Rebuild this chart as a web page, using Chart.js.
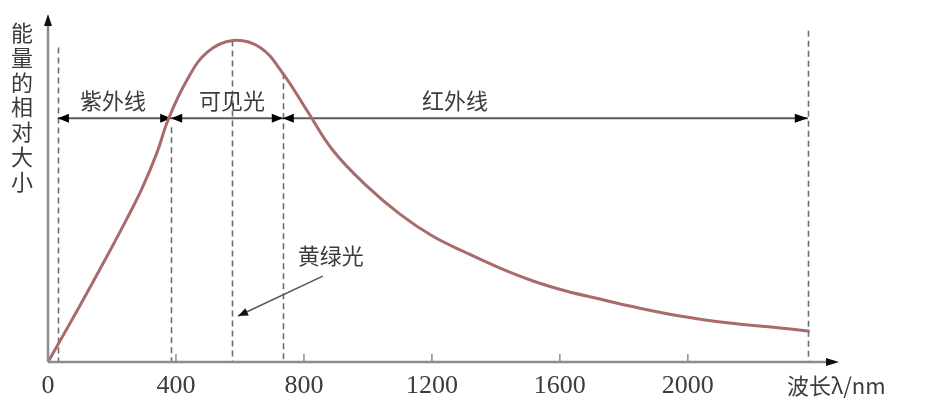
<!DOCTYPE html>
<html><head><meta charset="utf-8">
<script src="https://cdn.jsdelivr.net/npm/chart.js@4/dist/chart.umd.min.js"></script>
<style>html,body{margin:0;padding:0;background:#fff}#wrap{width:927px;height:407px}</style>
</head><body><div id="wrap"><canvas id="c" width="927" height="407"></canvas></div>
<script>
// ---- data ----
const wavelength = [0,94,178,241,294,341,375,434,497,578,663,734,809,891,997,1100,1203,1309,1413,1516,1622,1725,1819,1975,2131,2288,2381];
const energy     = [0,16.5,31.7,43.5,54.0,65.2,75.2,87.6,96.3,100,97.8,89.8,78.3,65.8,54.7,46.0,39.1,33.9,29.2,25.2,22.0,19.6,17.4,14.3,12.1,10.6,9.6];
const xTickValues = [0,400,800,1200,1600,2000];
const xTickLabels = ['0','400','800','1200','1600','2000'];
const boundaryWavelengths = [31,385,575,734,2375];
const boundaryTops = [97.8,73,100,89.8,103];
const bandLevel = 75.8;
const bandNames = ['紫外线','可见光','红外线'];
const bandCenters = [203,575,1272];
const bandLabelLevel = 81.4;
const noteText = '黄绿光';
const notePos = [884,33.2];
const notePointerFrom = [859,26.7];
const notePointerTo = [594,14.3];
const yTitle = '能量的相对大小';
const xTitle = '波长λ/nm';
const xMax = 2460, yMax = 107;

const TXT = '#3c3c3c', AX = '#8c8c8c';
const CJK = '"Noto Sans CJK SC", sans-serif';
const SERIF = '"Liberation Serif", "DejaVu Serif", serif';

function tri(ctx, tipX, tipY, dir, len, half){
  ctx.beginPath();
  if (dir==='right'){ctx.moveTo(tipX,tipY);ctx.lineTo(tipX-len,tipY-half);ctx.lineTo(tipX-len,tipY+half);}
  else if (dir==='left'){ctx.moveTo(tipX,tipY);ctx.lineTo(tipX+len,tipY-half);ctx.lineTo(tipX+len,tipY+half);}
  else if (dir==='up'){ctx.moveTo(tipX,tipY);ctx.lineTo(tipX-half,tipY+len);ctx.lineTo(tipX+half,tipY+len);}
  ctx.closePath();ctx.fill();
}

const decor = {
  id:'decor',
  beforeDatasetsDraw(chart){
    const {ctx, scales:{x,y}} = chart;
    ctx.save();
    ctx.strokeStyle='#6e6e6e'; ctx.lineWidth=1.6; ctx.setLineDash([6,4]);
    boundaryWavelengths.forEach((w,i)=>{
      const px=Math.round(x.getPixelForValue(w))+0.5;
      ctx.beginPath(); ctx.moveTo(px,y.getPixelForValue(boundaryTops[i])); ctx.lineTo(px,y.getPixelForValue(0)); ctx.stroke();
    });
    ctx.setLineDash([]);
    const by=y.getPixelForValue(bandLevel);
    const bx=boundaryWavelengths.map(w=>x.getPixelForValue(w));
    ctx.strokeStyle='#5a5a5a'; ctx.lineWidth=2;
    ctx.beginPath(); ctx.moveTo(bx[0],by); ctx.lineTo(bx[4],by); ctx.stroke();
    ctx.fillStyle='#000';
    tri(ctx,bx[0],by,'left',11,4.5);
    [bx[1],bx[3]].forEach(p=>{tri(ctx,p,by,'right',11,4.5);tri(ctx,p,by,'left',11,4.5);});
    tri(ctx,bx[4],by,'right',13,4.5);
    ctx.restore();
  },
  afterDraw(chart){
    const {ctx, scales:{x,y}} = chart;
    ctx.save();
    const x0=x.getPixelForValue(0), y0=y.getPixelForValue(0);
    const xEnd=x.getPixelForValue(xMax), yTop=y.getPixelForValue(yMax);
    ctx.strokeStyle=AX; ctx.lineWidth=2.5;
    ctx.beginPath(); ctx.moveTo(x0,y0); ctx.lineTo(xEnd,y0); ctx.stroke();
    ctx.beginPath(); ctx.moveTo(x0,y0); ctx.lineTo(x0,yTop+4); ctx.stroke();
    ctx.fillStyle='#111';
    tri(ctx,xEnd+4,y0,'right',13,4);
    tri(ctx,x0,yTop-4,'up',12,4);
    ctx.strokeStyle=AX; ctx.lineWidth=1.5;
    xTickValues.forEach(v=>{ if(v===0) return; const p=x.getPixelForValue(v);
      ctx.beginPath(); ctx.moveTo(p,y0); ctx.lineTo(p,y0-8); ctx.stroke(); });
    ctx.fillStyle=TXT; ctx.font='26px '+SERIF; ctx.textAlign='center'; ctx.textBaseline='middle';
    xTickValues.forEach((v,i)=>{ ctx.fillText(xTickLabels[i], x.getPixelForValue(v), y0+24); });
    ctx.font='22px '+CJK; ctx.textAlign='left';
    ctx.fillText(xTitle, xEnd-48, y0+24);
    ctx.textAlign='center';
    [...yTitle].forEach((ch,i)=>{ ctx.fillText(ch, 22, 33+i*24.7); });
    bandNames.forEach((t,i)=>{ ctx.fillText(t, x.getPixelForValue(bandCenters[i]), y.getPixelForValue(bandLabelLevel)); });
    ctx.fillText(noteText, x.getPixelForValue(notePos[0]), y.getPixelForValue(notePos[1]));
    const fx=x.getPixelForValue(notePointerFrom[0]), fy=y.getPixelForValue(notePointerFrom[1]);
    const tx=x.getPixelForValue(notePointerTo[0]), ty=y.getPixelForValue(notePointerTo[1]);
    ctx.strokeStyle='#555'; ctx.lineWidth=1.5;
    ctx.beginPath(); ctx.moveTo(fx,fy); ctx.lineTo(tx,ty); ctx.stroke();
    const ang=Math.atan2(ty-fy,tx-fx);
    ctx.fillStyle='#111';
    ctx.beginPath(); ctx.moveTo(tx,ty);
    ctx.lineTo(tx-10*Math.cos(ang)+4*Math.sin(ang), ty-10*Math.sin(ang)-4*Math.cos(ang));
    ctx.lineTo(tx-10*Math.cos(ang)-4*Math.sin(ang), ty-10*Math.sin(ang)+4*Math.cos(ang));
    ctx.closePath(); ctx.fill();
    ctx.restore();
  }
};

new Chart(document.getElementById('c'), {
  type:'line',
  data:{ datasets:[{
    data: wavelength.map((w,i)=>({x:w,y:energy[i]})),
    borderColor:'#a86a6a', borderWidth:3, pointRadius:0,
    tension:0.4, fill:false
  }]},
  options:{
    responsive:false, animation:false, devicePixelRatio:1,
    layout:{padding:{left:48,right:927-835,top:18,bottom:45}},
    plugins:{legend:{display:false},tooltip:{enabled:false}},
    scales:{
      x:{type:'linear',min:0,max:xMax,display:false},
      y:{min:0,max:yMax,display:false}
    }
  },
  plugins:[decor]
});
</script></body></html>
